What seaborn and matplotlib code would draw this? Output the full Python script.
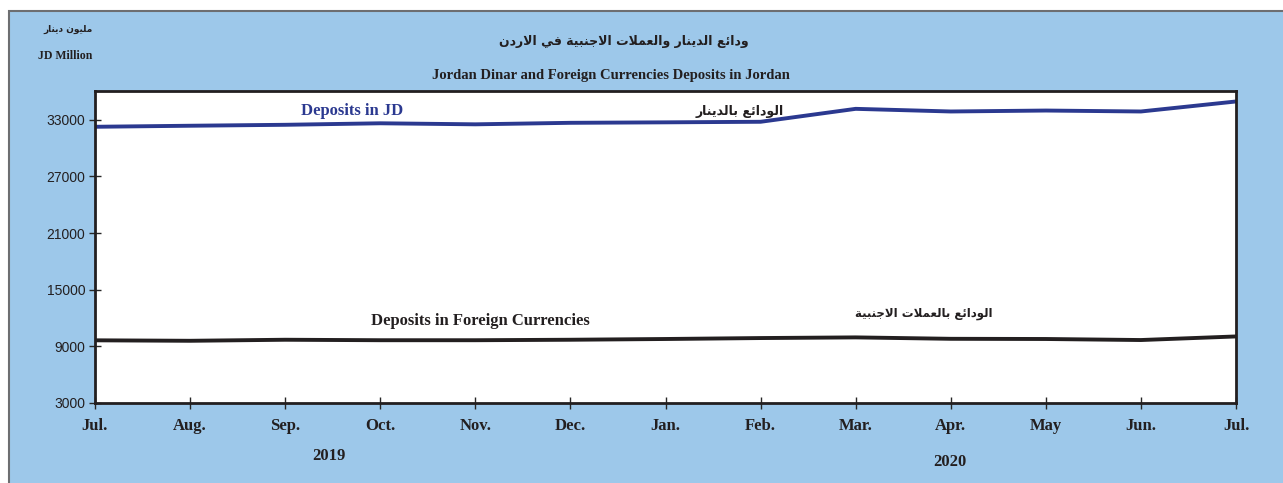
import numpy as np
import pandas as pd
import matplotlib
matplotlib.use('Agg')
import matplotlib.pyplot as plt
from matplotlib.patches import Rectangle
import seaborn as sns

# %% data (JD million)

months = ['Jul.', 'Aug.', 'Sep.', 'Oct.', 'Nov.', 'Dec.', 'Jan.', 'Feb.', 'Mar.', 'Apr.', 'May', 'Jun.', 'Jul.']
deposits_jd = [32260, 32370, 32470, 32630, 32520, 32680, 32730, 32790, 34160, 33880, 33980, 33880, 34940]
deposits_fc = [9640, 9590, 9700, 9650, 9650, 9700, 9780, 9880, 9950, 9800, 9780, 9670, 10050]
y_ticks = [3000, 9000, 15000, 21000, 27000, 33000]
years = ['2019', '2020']

# %% arabic shaping (matplotlib has no bidi / joining)

FORMS = {
    'ا': ('\uFE8D', '\uFE8E', None, None),
    'ب': ('\uFE8F', '\uFE90', '\uFE91', '\uFE92'),
    'ة': ('\uFE93', '\uFE94', None, None),
    'ت': ('\uFE95', '\uFE96', '\uFE97', '\uFE98'),
    'ج': ('\uFE9D', '\uFE9E', '\uFE9F', '\uFEA0'),
    'د': ('\uFEA9', '\uFEAA', None, None),
    'ر': ('\uFEAD', '\uFEAE', None, None),
    'ع': ('\uFEC9', '\uFECA', '\uFECB', '\uFECC'),
    'ف': ('\uFED1', '\uFED2', '\uFED3', '\uFED4'),
    'ل': ('\uFEDD', '\uFEDE', '\uFEDF', '\uFEE0'),
    'م': ('\uFEE1', '\uFEE2', '\uFEE3', '\uFEE4'),
    'ن': ('\uFEE5', '\uFEE6', '\uFEE7', '\uFEE8'),
    'و': ('\uFEED', '\uFEEE', None, None),
    'ي': ('\uFEF1', '\uFEF2', '\uFEF3', '\uFEF4'),
    'ئ': ('\uFE89', '\uFE8A', '\uFE8B', '\uFE8C'),
    '\uFEFB': ('\uFEFB', '\uFEFC', None, None),  # lam-alef
}


def ar(text):
    text = text.replace('لا', '\uFEFB')
    out = []
    for i, c in enumerate(text):
        if c not in FORMS:
            out.append(c)
            continue
        prev = text[i - 1] if i > 0 else None
        nxt = text[i + 1] if i + 1 < len(text) else None
        iso, fin, ini, med = FORMS[c]
        join_prev = prev in FORMS and FORMS[prev][2] is not None
        join_next = ini is not None and nxt in FORMS
        if join_prev and join_next:
            out.append(med)
        elif join_prev:
            out.append(fin)
        elif join_next:
            out.append(ini)
        else:
            out.append(iso)
    return ''.join(out[::-1])


# %% plot

sns.set_style('white')
plt.rcParams['font.family'] = ['Liberation Serif', 'DejaVu Sans']

bg = '#9DC8EA'
navy = '#2B3990'
dark = '#231F20'

df = pd.DataFrame({'pos': np.arange(len(months)), 'jd': deposits_jd, 'fc': deposits_fc})

fig = plt.figure(figsize=(12.83, 4.83), dpi=100, facecolor='white')
fig.patches.append(Rectangle((9 / 1283, -0.02), 1.02, 0.997, transform=fig.transFigure,
                             facecolor=bg, edgecolor='#6D6E71', linewidth=1.5, zorder=-10))

ax = fig.add_axes([95 / 1283, 1 - 403 / 483, (1236 - 95) / 1283, (403 - 91) / 483])
ax.set_facecolor('white')
ax.set_zorder(2)

sns.lineplot(data=df, x='pos', y='jd', ax=ax, color=navy, linewidth=2.8)
sns.lineplot(data=df, x='pos', y='fc', ax=ax, color=dark, linewidth=2.8)

ax.set_xlim(0, len(months) - 1)
ax.set_ylim(3000, 36050)
ax.set_xticks(df['pos'])
ax.set_xticklabels(months, fontsize=12, fontweight='bold', color=dark)
ax.set_yticks(y_ticks)
ax.set_yticklabels([str(v) for v in y_ticks], fontsize=10, family='Liberation Sans', color=dark)
ax.tick_params(axis='x', direction='inout', length=9, width=1, pad=6, bottom=True)
ax.tick_params(axis='y', direction='inout', length=8, width=1, pad=3, left=True)
ax.set_xlabel('')
ax.set_ylabel('')
for s in ax.spines.values():
    s.set_color(dark)
    s.set_linewidth(2)

# line labels
ax.text(2.70, 33950, 'Deposits in JD', color=navy, fontsize=12, fontweight='bold', ha='center', va='center')
ax.text(6.78, 33850, ar('الودائع بالدينار'), color=dark, fontsize=9, fontweight='bold',
        family='DejaVu Sans', ha='center', va='center')
ax.text(4.05, 11700, 'Deposits in Foreign Currencies', color=dark, fontsize=12, fontweight='bold',
        ha='center', va='center')
ax.text(8.72, 12500, ar('الودائع بالعملات الاجنبية'), color=dark, fontsize=8.5, fontweight='bold',
        family='DejaVu Sans', ha='center', va='center')

# titles and units
fig.text(624 / 1283, 1 - 42 / 483, ar('ودائع الدينار والعملات الاجنبية في الاردن'), fontsize=9,
         fontweight='bold', family='DejaVu Sans', color=dark, ha='center', va='center')
fig.text(611 / 1283, 1 - 75 / 483, 'Jordan Dinar and Foreign Currencies Deposits in Jordan', fontsize=10.5,
         fontweight='bold', color=dark, ha='center', va='center')
fig.text(68 / 1283, 1 - 29 / 483, ar('مليون دينار'), fontsize=6.5, fontweight='bold',
         family='DejaVu Sans', color=dark, ha='center', va='center')
fig.text(65 / 1283, 1 - 56 / 483, 'JD Million', fontsize=8.5, fontweight='bold', color=dark,
         ha='center', va='center')

# years under the month axis
fig.text(329 / 1283, 1 - 456 / 483, years[0], fontsize=12, fontweight='bold', color=dark, ha='center', va='center')
fig.text(950 / 1283, 1 - 462 / 483, years[1], fontsize=12, fontweight='bold', color=dark, ha='center', va='center')

fig.savefig('out.png', dpi=100, facecolor='white')
